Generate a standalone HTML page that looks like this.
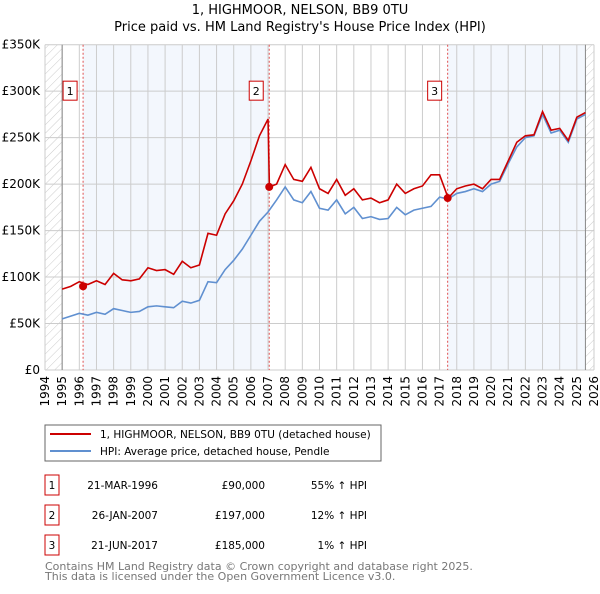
<!DOCTYPE html>
<html><head><meta charset="utf-8"><style>
body{margin:0;background:#fff;font-family:"DejaVu Sans","Liberation Sans",sans-serif;}
svg text{font-family:"DejaVu Sans","Liberation Sans",sans-serif;}
</style></head><body>
<svg id="chart" width="600" height="590" viewBox="0 0 600 590" xmlns="http://www.w3.org/2000/svg">
<defs>
<pattern id="hatch" patternUnits="userSpaceOnUse" width="6" height="6" patternTransform="rotate(45)">
<line x1="0" y1="0" x2="0" y2="6" stroke="#ccc" stroke-width="1"/></pattern>
</defs>
<text x="300" y="14" text-anchor="middle" font-size="13">1, HIGHMOOR, NELSON, BB9 0TU</text>
<text x="300" y="31" text-anchor="middle" font-size="13">Price paid vs. HM Land Registry's House Price Index (HPI)</text>
<g id="plot"></g>
<g>
<rect x="45" y="425" width="336" height="36" fill="#fff" stroke="#666"/>
<line x1="50" y1="434" x2="91" y2="434" stroke="#cc0000" stroke-width="2"/>
<text x="100" y="438" font-size="10.5">1, HIGHMOOR, NELSON, BB9 0TU (detached house)</text>
<line x1="50" y1="451" x2="91" y2="451" stroke="#6090d0" stroke-width="2"/>
<text x="100" y="455" font-size="10.5">HPI: Average price, detached house, Pendle</text>
</g>
<g font-size="10.5">
<rect x="45" y="475" width="14" height="20" fill="#fff" stroke="#cc0000"/><text x="52" y="489" text-anchor="middle">1</text>
<text x="158" y="489" text-anchor="end">21-MAR-1996</text><text x="265" y="489" text-anchor="end">£90,000</text><text x="367" y="489" text-anchor="end">55% ↑ HPI</text>
<rect x="45" y="505" width="14" height="20" fill="#fff" stroke="#cc0000"/><text x="52" y="519" text-anchor="middle">2</text>
<text x="158" y="519" text-anchor="end">26-JAN-2007</text><text x="265" y="519" text-anchor="end">£197,000</text><text x="367" y="519" text-anchor="end">12% ↑ HPI</text>
<rect x="45" y="535" width="14" height="20" fill="#fff" stroke="#cc0000"/><text x="52" y="549" text-anchor="middle">3</text>
<text x="158" y="549" text-anchor="end">21-JUN-2017</text><text x="265" y="549" text-anchor="end">£185,000</text><text x="367" y="549" text-anchor="end">1% ↑ HPI</text>
</g>
<text x="45" y="570" font-size="11" fill="#777">Contains HM Land Registry data © Crown copyright and database right 2025.</text>
<text x="45" y="580" font-size="11" fill="#777">This data is licensed under the Open Government Licence v3.0.</text>
</svg>
<script>
const years=[1995,1995.5,1996,1996.5,1997,1997.5,1998,1998.5,1999,1999.5,2000,2000.5,2001,2001.5,2002,2002.5,2003,2003.5,2004,2004.5,2005,2005.5,2006,2006.5,2007,2007.5,2008,2008.5,2009,2009.5,2010,2010.5,2011,2011.5,2012,2012.5,2013,2013.5,2014,2014.5,2015,2015.5,2016,2016.5,2017,2017.5,2018,2018.5,2019,2019.5,2020,2020.5,2021,2021.5,2022,2022.5,2023,2023.5,2024,2024.5,2025,2025.5];
const hpi=[55,58,61,59,62,60,66,64,62,63,68,69,68,67,74,72,75,95,94,108,118,130,145,160,170,183,197,183,180,192,174,172,183,168,175,163,165,162,163,175,167,172,174,176,186,184,190,192,195,192,200,203,222,240,250,252,275,255,258,245,270,275];
const redYears=[1995,1995.5,1996,1996.5,1997,1997.5,1998,1998.5,1999,1999.5,2000,2000.5,2001,2001.5,2002,2002.5,2003,2003.5,2004,2004.5,2005,2005.5,2006,2006.5,2007,2007.08,2007.5,2008,2008.5,2009,2009.5,2010,2010.5,2011,2011.5,2012,2012.5,2013,2013.5,2014,2014.5,2015,2015.5,2016,2016.5,2017,2017.5,2018,2018.5,2019,2019.5,2020,2020.5,2021,2021.5,2022,2022.5,2023,2023.5,2024,2024.5,2025,2025.5];
const redVals=[87,90,95,92,96,92,104,97,96,98,110,107,108,103,117,110,113,147,145,168,182,200,225,252,270,197,200,221,205,203,218,195,190,205,188,195,183,185,180,183,200,190,195,198,210,210,185,195,198,200,195,205,205,225,245,252,253,278,258,260,247,272,277];
const saleYears=[1996.22,2007.07,2017.47];
const salePrices=[90,197,185];
const saleLabels=["1","2","3"];
const yTicks=[0,50,100,150,200,250,300,350];
const yTickLabels=["£0","£50K","£100K","£150K","£200K","£250K","£300K","£350K"];
const xTicks=[1994,1995,1996,1997,1998,1999,2000,2001,2002,2003,2004,2005,2006,2007,2008,2009,2010,2011,2012,2013,2014,2015,2016,2017,2018,2019,2020,2021,2022,2023,2024,2025,2026];

const X0=45,X1=594,Y0=370,Y1=44.7;
const xs=y=>X0+(y-1994)/(2026-1994)*(X1-X0);
const ys=v=>Y0-(v/350)*(Y0-Y1);
const NS="http://www.w3.org/2000/svg";
const g=document.getElementById('plot');
function mk(t,a){const e=document.createElementNS(NS,t);for(const k in a)e.setAttribute(k,a[k]);g.appendChild(e);return e;}
let b=mk('rect',{x:xs(saleYears[0]),y:Y1,width:xs(saleYears[1])-xs(saleYears[0]),height:Y0-Y1,fill:'#eef3fc',opacity:0.7});


b=mk('rect',{x:xs(saleYears[2]),y:Y1,width:xs(2025.5)-xs(saleYears[2]),height:Y0-Y1,fill:'#eef3fc',opacity:0.7});


b=mk('rect',{x:X0,y:Y1,width:xs(1995)-X0,height:Y0-Y1,fill:'url(#hatch)'});


b=mk('rect',{x:xs(2025.5),y:Y1,width:X1-xs(2025.5),height:Y0-Y1,fill:'url(#hatch)'});


xTicks.forEach(t=>{
 const l=mk('line',{x1:xs(t),x2:xs(t),y1:Y1,y2:Y0,stroke:'#ccc','stroke-width':1});
 
 
 const tx=mk('text',{x:0,y:0,'font-size':12,'text-anchor':'end',transform:`translate(${xs(t)+4},${Y0+6}) rotate(-90)`});
 tx.textContent=t;
 
 
});
yTicks.forEach((t,i)=>{
 const l=mk('line',{x1:X0,x2:X1,y1:ys(t),y2:ys(t),stroke:'#ccc','stroke-width':1});
 
 
 const tx=mk('text',{x:X0-5,y:ys(t)+4,'font-size':12,'text-anchor':'end'});
 tx.textContent=yTickLabels[i];
 
 
});
let ax=mk('line',{x1:xs(1995),x2:xs(1995),y1:Y1,y2:Y0,stroke:'#888'});


ax=mk('line',{x1:xs(2025.5),x2:xs(2025.5),y1:Y1,y2:Y0,stroke:'#888'});


saleYears.forEach((s,i)=>{
 const l=mk('line',{x1:xs(s),x2:xs(s),y1:Y1,y2:Y0,stroke:'#e05050','stroke-width':1,'stroke-dasharray':'2,2'});
 
 
});
let p=mk('polyline',{points:years.map((y,i)=>xs(y)+','+ys(hpi[i])).join(' '),fill:'none',stroke:'#6090d0','stroke-width':1.6});


p=mk('polyline',{points:redYears.map((y,i)=>xs(y)+','+ys(redVals[i])).join(' '),fill:'none',stroke:'#cc0000','stroke-width':1.6});


saleYears.forEach((s,i)=>{
 const c=mk('circle',{cx:xs(s),cy:ys(salePrices[i]),r:4,fill:'#cc0000'});
 
 
 const r=mk('rect',{x:xs(s)-20,y:ys(300)-10,width:14,height:19,fill:'#fff',stroke:'#cc0000'});
 
 
 const t=mk('text',{x:xs(s)-13,y:ys(300)+4,'font-size':11,'text-anchor':'middle'});
 t.textContent=saleLabels[i];
 
 
});
</script>
</body></html>
